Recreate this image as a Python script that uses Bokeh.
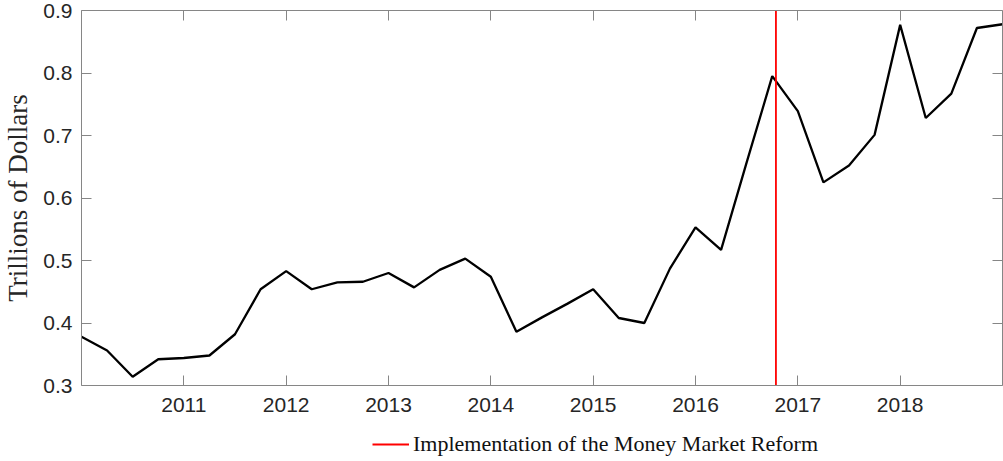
from bokeh.plotting import figure
from bokeh.layouts import column
from bokeh.models import LinearAxis, FixedTicker, Range1d, Legend, LegendItem, ColumnDataSource, CustomJSTickFormatter
from bokeh.embed import file_html
from bokeh.resources import INLINE

# ---- data (quarterly, trillions of dollars) ----
dates = [2010.0 + 0.25 * k for k in range(37)]
values = [0.378, 0.356, 0.314, 0.342, 0.344, 0.348, 0.382, 0.454, 0.483, 0.454,
          0.465, 0.466, 0.480, 0.457, 0.485, 0.503, 0.474, 0.386, 0.409, 0.431,
          0.454, 0.408, 0.400, 0.487, 0.553, 0.517, 0.657, 0.795, 0.739, 0.625,
          0.652, 0.701, 0.877, 0.728, 0.767, 0.872, 0.878]
reform_date = 2016.786
reform_label = "Implementation of the Money Market Reform"
x_ticks = [2011, 2012, 2013, 2014, 2015, 2016, 2017, 2018]
y_ticks = [0.3, 0.4, 0.5, 0.6, 0.7, 0.8, 0.9]
y_label = "Trillions of Dollars"
x_lim = (2010.0, 2019.0)
y_lim = (0.3, 0.9)

AX = "#868686"
TXT = "#262626"
RED = "#ff0000"

p = figure(width=1003, height=425, output_backend="svg", toolbar_location=None,
           x_range=Range1d(*x_lim), y_range=Range1d(*y_lim),
           x_axis_location=None, y_axis_location=None)
p.min_border_left = 80
p.min_border_right = 1
p.min_border_top = 10
p.min_border_bottom = 40
p.outline_line_color = None
p.xgrid.visible = False
p.ygrid.visible = False
p.background_fill_color = "white"
p.border_fill_color = "white"


def style_axis(ax, ticks, show_labels):
    ax.ticker = FixedTicker(ticks=ticks)
    ax.axis_line_color = AX
    ax.axis_line_width = 1
    ax.major_tick_line_color = AX
    ax.major_tick_line_width = 1
    ax.major_tick_in = 10
    ax.major_tick_out = 0
    ax.minor_tick_line_color = None
    if show_labels:
        ax.major_label_text_font = "Liberation Sans"
        ax.major_label_text_font_size = "21px"
        ax.major_label_text_color = TXT
    else:
        ax.formatter = CustomJSTickFormatter(code="return ''")
        ax.major_label_standoff = 0


xb = LinearAxis()
style_axis(xb, x_ticks, True)
xb.major_label_standoff = 12
p.add_layout(xb, "below")

yl = LinearAxis(axis_label=y_label)
style_axis(yl, y_ticks, True)
yl.major_label_standoff = 9
yl.axis_label_standoff = 7
yl.axis_label_text_font = "Liberation Serif"
yl.axis_label_text_font_size = "27px"
yl.axis_label_text_font_style = "normal"
yl.axis_label_text_color = TXT
p.add_layout(yl, "left")

xt = LinearAxis()
style_axis(xt, x_ticks, False)
p.add_layout(xt, "above")

yr = LinearAxis()
style_axis(yr, y_ticks, False)
p.add_layout(yr, "right")

src = ColumnDataSource(dict(x=dates, y=values))
p.line("x", "y", source=src, line_color="black", line_width=2.3)

p.line(x=[reform_date, reform_date], y=list(y_lim), line_color=RED, line_width=1.8)

# ---- legend strip below the chart ----
q = figure(width=1003, height=36, output_backend="svg", toolbar_location=None,
           x_range=Range1d(*x_lim), y_range=Range1d(*y_lim),
           x_axis_location=None, y_axis_location=None)
q.min_border_left = 0
q.min_border_right = 0
q.min_border_top = 0
q.min_border_bottom = 0
q.outline_line_color = None
q.xgrid.visible = False
q.ygrid.visible = False
q.background_fill_color = "white"
q.border_fill_color = "white"
legend_r = q.line(x=[reform_date, reform_date], y=list(y_lim), line_color=RED, line_width=1.8)
legend_r.visible = False

legend = Legend(items=[LegendItem(label=reform_label, renderers=[legend_r])],
                location=(291, 4), orientation="horizontal")
legend.border_line_color = None
legend.background_fill_alpha = 0
legend.label_text_font = "Liberation Serif"
legend.label_text_font_size = "22px"
legend.label_text_color = "#111111"
legend.glyph_width = 37
legend.label_standoff = 4
legend.padding = 0
legend.margin = 0
legend.spacing = 0
q.add_layout(legend, "center")

layout = column(p, q, spacing=0)
open("out.html", "w").write(file_html(layout, INLINE))
